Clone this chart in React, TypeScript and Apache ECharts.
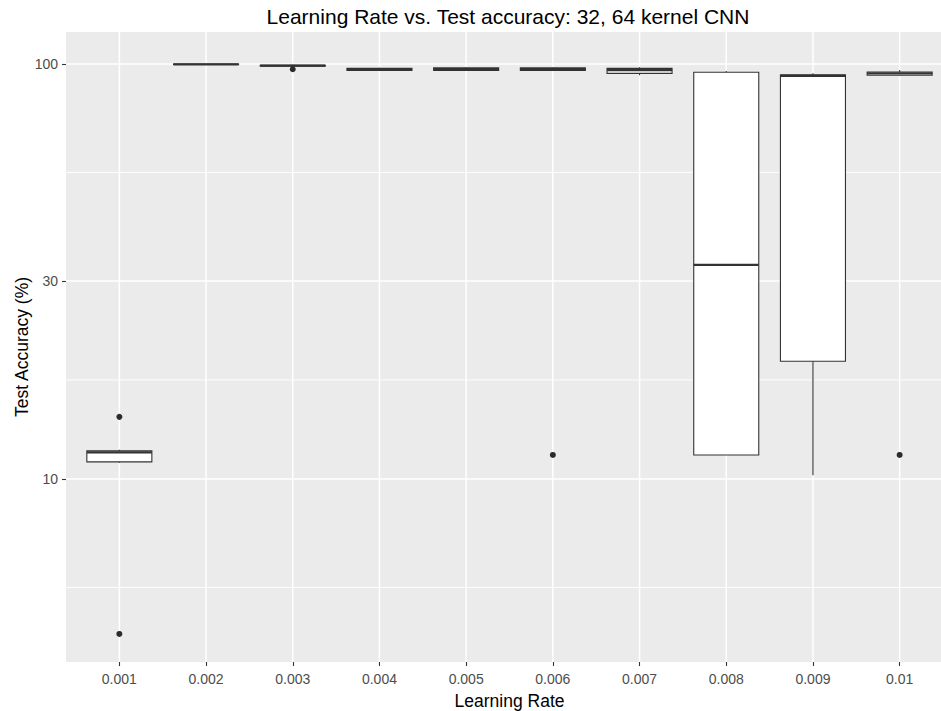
import React, { useEffect, useRef } from "react";
import * as echarts from "echarts";

// ---- data ----
const categories = ["0.001", "0.002", "0.003", "0.004", "0.005", "0.006", "0.007", "0.008", "0.009", "0.01"];
const whiskerLow = [10.93, 99.7, 98.6, 96.1, 96.2, 96.1, 93.9, 11.42, 10.21, 93.6];
const q1 = [10.99, 99.75, 98.8, 96.4, 96.4, 96.4, 94.9, 11.42, 19.21, 93.9];
const median = [11.59, 99.82, 99.1, 97.0, 97.2, 97.1, 96.6, 32.8, 93.6, 94.9];
const q3 = [11.68, 99.88, 99.3, 97.6, 97.9, 97.9, 97.6, 95.5, 94.1, 95.66];
const whiskerHigh = [11.75, 99.95, 99.5, 97.9, 98.2, 98.2, 98.2, 96.2, 95.0, 96.7];
const outlierCat = [0, 0, 2, 5, 9];
const outlierVal = [14.11, 4.23, 97.1, 11.42, 11.42];
const yBreaks = [10, 30, 100];
const yMinorBreaks = [5.477, 17.32, 54.77];
const yLimits = [3.62, 119.4];

const lg = (v: number) => Math.log10(v);

export default function App() {
  const ref = useRef<HTMLDivElement>(null);
  useEffect(() => {
    if (!ref.current) return;
    const chart = echarts.init(ref.current, undefined, { renderer: "svg" });
    const boxData = categories.map((_, i) => [
      i,
      lg(whiskerLow[i]),
      lg(q1[i]),
      lg(median[i]),
      lg(q3[i]),
      lg(whiskerHigh[i]),
    ]);
    const outData = outlierCat.map((c, i) => [c, lg(outlierVal[i])]);
    const font = "Liberation Sans, Arial, sans-serif";
    const option: any = {
      animation: false,
      backgroundColor: "#FFFFFF",
      title: {
        text: "Learning Rate vs. Test accuracy: 32, 64 kernel CNN",
        left: 508,
        top: 6,
        padding: 0,
        textAlign: "center",
        textStyle: { fontFamily: font, fontSize: 21, fontWeight: "normal", color: "#000000" },
      },
      grid: { left: 76, right: -2, top: 32, bottom: 49, containLabel: false, outerBoundsMode: "none" },
      xAxis: {
        type: "category",
        data: categories,
        boundaryGap: true,
        name: "Learning Rate",
        nameLocation: "middle",
        nameGap: 30,
        nameTextStyle: { fontFamily: font, fontSize: 17.5, color: "#000000" },
        axisLine: { show: false },
        axisTick: { show: true, alignWithLabel: true, length: 4, lineStyle: { color: "#333333", width: 1.1 } },
        axisLabel: { fontFamily: font, fontSize: 14, color: "#4D4D4D", margin: 10 },
        splitLine: { show: false },
      },
      yAxis: {
        type: "value",
        min: lg(yLimits[0]),
        max: lg(yLimits[1]),
        offset: 10,
        name: "Test Accuracy (%)",
        nameLocation: "middle",
        nameGap: 35,
        nameMoveOverlap: false,
        nameTextStyle: { fontFamily: font, fontSize: 17.5, color: "#000000" },
        axisLine: { show: false },
        axisTick: {
          show: true,
          length: 4,
          customValues: yBreaks.map(lg),
          lineStyle: { color: "#333333", width: 1.1 },
        },
        axisLabel: {
          fontFamily: font,
          fontSize: 14,
          color: "#4D4D4D",
          margin: 8,
          customValues: yBreaks.map(lg),
          formatter: (v: number) => String(Math.round(Math.pow(10, v))),
        },
        splitLine: { show: false },
      },
      series: [
        {
          type: "custom",
          z: 3,
          data: boxData,
          encode: { x: 0, y: [1, 2, 3, 4, 5] },
          renderItem: (params: any, api: any) => {
            const x = api.value(0);
            const lo = api.coord([x, api.value(1)]);
            const b1 = api.coord([x, api.value(2)]);
            const md = api.coord([x, api.value(3)]);
            const b3 = api.coord([x, api.value(4)]);
            const hi = api.coord([x, api.value(5)]);
            const band = (api.size([1, 0]) as number[])[0];
            const half = (band * 0.75) / 2;
            const cx = lo[0];
            const stroke = "#333333";
            return {
              type: "group",
              children: [
                { type: "line", shape: { x1: cx, y1: hi[1], x2: cx, y2: b3[1] }, style: { stroke, lineWidth: 1.1 } },
                { type: "line", shape: { x1: cx, y1: b1[1], x2: cx, y2: lo[1] }, style: { stroke, lineWidth: 1.1 } },
                {
                  type: "rect",
                  shape: { x: cx - half, y: b3[1], width: half * 2, height: b1[1] - b3[1] },
                  style: { fill: "#FFFFFF", stroke, lineWidth: 1.1 },
                },
                {
                  type: "line",
                  shape: { x1: cx - half, y1: md[1], x2: cx + half, y2: md[1] },
                  style: { stroke, lineWidth: 2.3 },
                },
              ],
            };
          },
        },
        {
          type: "scatter",
          z: 4,
          data: outData,
          symbol: "circle",
          symbolSize: 6,
          itemStyle: { color: "#2B2B2B", opacity: 1 },
        },
      ],
    };
    chart.setOption(option);

    const panelLeft = 66;
    const panelRight = 953;
    const panelTop = 32;
    const panelBottom = 662;
    const elements: any[] = [
      {
        type: "rect",
        id: "panel",
        z: -20,
        shape: { x: panelLeft, y: panelTop, width: panelRight - panelLeft, height: panelBottom - panelTop },
        style: { fill: "#EBEBEB" },
        silent: true,
      },
    ];
    yMinorBreaks.forEach((v, i) => {
      const y = chart.convertToPixel({ yAxisIndex: 0 }, lg(v)) as number;
      elements.push({
        type: "line",
        id: "hmin" + i,
        z: -10,
        silent: true,
        shape: { x1: panelLeft, y1: y, x2: panelRight, y2: y },
        style: { stroke: "#FFFFFF", lineWidth: 0.9 },
      });
    });
    yBreaks.forEach((v, i) => {
      const y = chart.convertToPixel({ yAxisIndex: 0 }, lg(v)) as number;
      elements.push({
        type: "line",
        id: "hmaj" + i,
        z: -9,
        silent: true,
        shape: { x1: panelLeft, y1: y, x2: panelRight, y2: y },
        style: { stroke: "#FFFFFF", lineWidth: 1.5 },
      });
    });
    categories.forEach((c, i) => {
      const x = chart.convertToPixel({ xAxisIndex: 0 }, i) as number;
      elements.push({
        type: "line",
        id: "v" + i,
        z: -9,
        silent: true,
        shape: { x1: x, y1: panelTop, x2: x, y2: panelBottom },
        style: { stroke: "#FFFFFF", lineWidth: 1.5 },
      });
    });
    chart.setOption({ graphic: { elements } });

    return () => chart.dispose();
  }, []);
  return (
    <div
      ref={ref}
      style={{ position: "absolute", left: 0, top: 0, width: 941, height: 711, background: "#FFFFFF" }}
    />
  );
}
